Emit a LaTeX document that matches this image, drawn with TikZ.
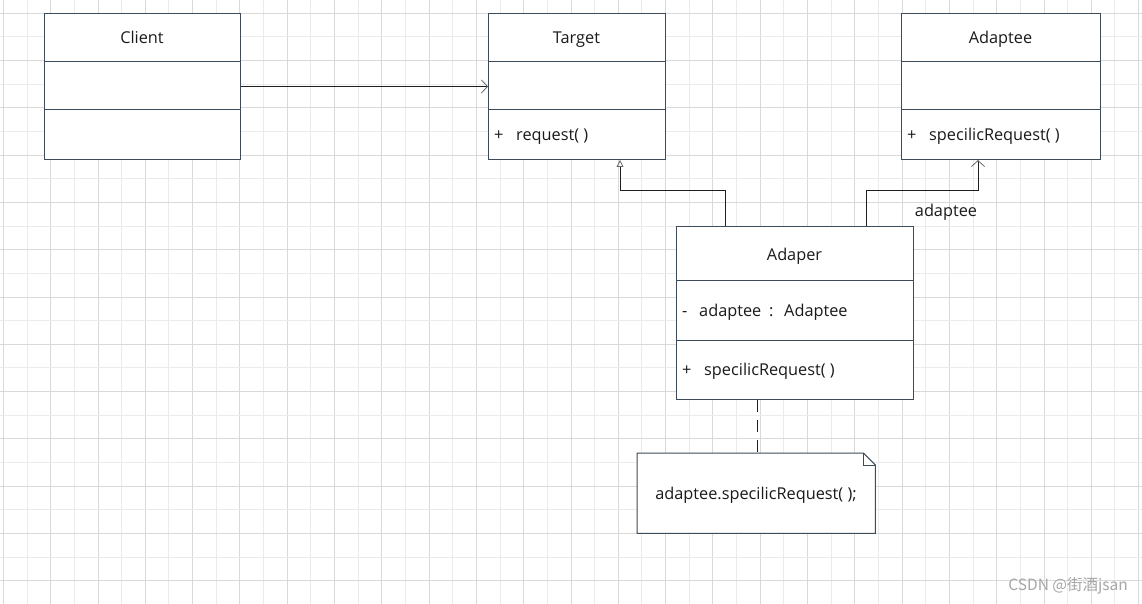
\documentclass[tikz,border=0pt]{standalone}
\usepackage{fontspec}
\setmainfont{Open Sans}
\newfontfamily\cjkfont{Noto Sans CJK SC}
\usetikzlibrary{arrows.meta}
\definecolor{gridmajor}{HTML}{D9D9D9}
\definecolor{gridminor}{HTML}{EBEBEB}
\definecolor{boxcol}{HTML}{3E4C5A}
\definecolor{linecol}{HTML}{1E1E1E}
\definecolor{txtcol}{HTML}{1A1A1A}
\tikzset{
  umlbox/.style={draw=boxcol, line width=1pt, fill=white, inner sep=0pt, anchor=north west},
  lbl/.style={font=\fontsize{16.3}{18}\selectfont, text=txtcol, inner sep=0pt, anchor=base},
  member/.style={lbl, anchor=base west},
  assoc/.style={draw=linecol, line width=0.9pt, -{Straight Barb[length=6pt,width=13pt,line width=0.8pt,color=gray!80!black]}},
  inherit/.style={draw=linecol, line width=0.9pt, -{Triangle[open,length=7pt,width=7pt,line width=0.8pt,color=gray!80!black]}},
  notelink/.style={draw=linecol, line width=0.9pt, dash pattern=on 12pt off 8pt},
}
\begin{document}
\begin{tikzpicture}[x=1pt,y=-1pt]
\useasboundingbox (0,0) rectangle (1142,604);
\fill[white] (0,0) rectangle (1142,604);
% grid
\foreach \k in {0,...,24} {
  \draw[gridminor, line width=0.8pt] ({3.3+47.3*\k+23.65},0) -- ++(0,604);
  \draw[gridmajor, line width=0.8pt] ({3.3+47.3*\k},0) -- ++(0,604);
}
\foreach \k in {-5,...,9} {
  \draw[gridminor, line width=0.8pt] (0,{202.3+47.3*\k+23.65}) -- ++(1142,0);
  \draw[gridmajor, line width=0.8pt] (0,{202.3+47.3*\k}) -- ++(1142,0);
}
% Client
\node[umlbox, minimum width=196pt, minimum height=146pt] (client) at (44,13) {};
\draw[boxcol, line width=1pt] ([yshift=-49pt]client.north west) -- ([yshift=-49pt]client.north east);
\draw[boxcol, line width=1pt] ([yshift=-97pt]client.north west) -- ([yshift=-97pt]client.north east);
\node[lbl] (clientname) at (142,44) {Client};
% Target
\node[umlbox, minimum width=177pt, minimum height=146pt] (target) at (488,13) {};
\draw[boxcol, line width=1pt] ([yshift=-49pt]target.north west) -- ([yshift=-49pt]target.north east);
\draw[boxcol, line width=1pt] ([yshift=-97pt]target.north west) -- ([yshift=-97pt]target.north east);
\node[lbl] (targetname) at (576.5,44) {Target};
\node[member] (targetvis) at (494,141) {+};
\node[member] (targetop) at (516,141) {request( )};
% Adaptee
\node[umlbox, minimum width=199pt, minimum height=146pt] (adaptee) at (901,13) {};
\draw[boxcol, line width=1pt] ([yshift=-49pt]adaptee.north west) -- ([yshift=-49pt]adaptee.north east);
\draw[boxcol, line width=1pt] ([yshift=-97pt]adaptee.north west) -- ([yshift=-97pt]adaptee.north east);
\node[lbl] (adapteename) at (1000.5,44) {Adaptee};
\node[member] (adapteevis) at (907,141) {+};
\node[member] (adapteeop) at (929,141) {specilicRequest( )};
% Adaper
\node[umlbox, minimum width=237pt, minimum height=173pt] (adaper) at (676,226) {};
\draw[boxcol, line width=1pt] ([yshift=-54pt]adaper.north west) -- ([yshift=-54pt]adaper.north east);
\draw[boxcol, line width=1pt] ([yshift=-114pt]adaper.north west) -- ([yshift=-114pt]adaper.north east);
\node[lbl] (adapername) at (794.5,260) {Adaper};
\node[member] (adapervis) at (682,316) {-};
\node[member] (adaperattr) at (699,316) {adaptee};
\node[member] (adapercolon) at (769,316) {:};
\node[member] (adapertype) at (784,316) {Adaptee};
\node[member] (adaperopvis) at (682,375) {+};
\node[member] (adaperop) at (704,375) {specilicRequest( )};
% Note
\node[minimum width=238pt, minimum height=80pt, inner sep=0pt, anchor=north west] (note) at (637,453) {};
\draw[boxcol, line width=1pt, fill=white] (note.north west) -- ([xshift=-12pt]note.north east) -- ([yshift=-12pt]note.north east) -- (note.south east) -- (note.south west) -- cycle;
\draw[boxcol, line width=1pt] ([xshift=-12pt]note.north east) -- ++(0,12) -- ([yshift=-12pt]note.north east);
\node[lbl] (notetext) at (756,499.5) {adaptee.specilicRequest( );};
% connectors
\draw[assoc] (client.east) -- (target.west);
\draw[inherit] ([xshift=49pt]adaper.north west) -- ++(0,-36) -| ([xshift=132pt]target.south west);
\draw[assoc] ([xshift=190pt]adaper.north west) -- ++(0,-36) -| ([xshift=77pt]adaptee.south west);
\node[lbl] (rolename) at (946,216) {adaptee};
\coordinate (dn) at ([xshift=120pt]note.north west);
\draw[notelink] (dn |- adaper.south) -- (dn);
% watermark
\node[font=\cjkfont\fontsize{15.5}{17}\selectfont, text=gray!70, anchor=east, inner sep=0pt] (wm) at (1128,586) {CSDN @街酒jsan};
\end{tikzpicture}
\end{document}
